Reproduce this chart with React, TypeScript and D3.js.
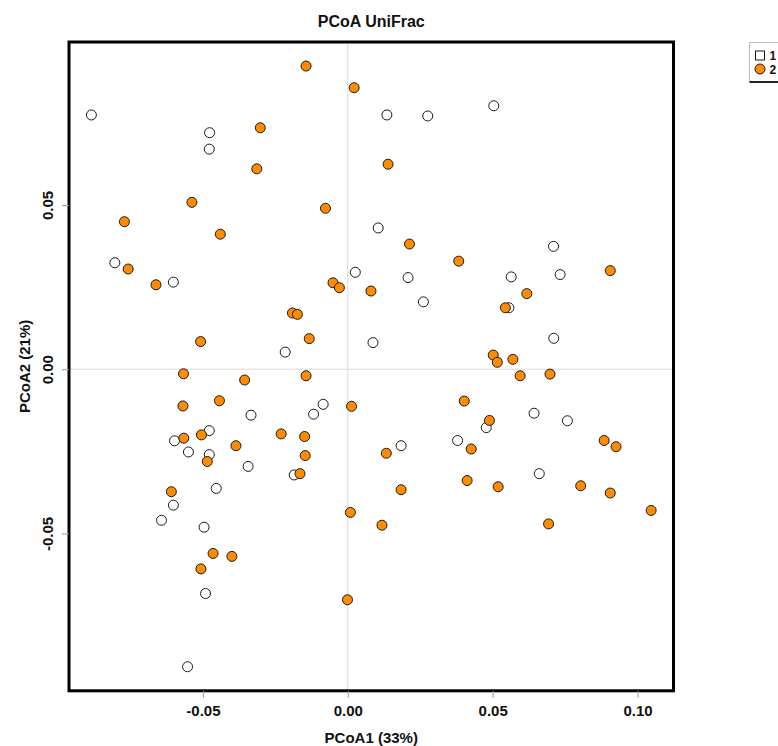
import React, { useEffect, useRef } from 'react';
import * as d3 from 'd3';

// group 1 (open circles): [PCoA1, PCoA2]
const group1 = [
  [-0.0885, 0.0774], [-0.0477, 0.072], [-0.0478, 0.067], [0.0135, 0.0774], [0.0276, 0.0771],
  [0.0504, 0.0802], [0.0105, 0.043], [0.0026, 0.0295], [0.0208, 0.0279], [0.0261, 0.0205],
  [0.071, 0.0374], [0.0733, 0.0288], [0.0564, 0.0281], [0.0556, 0.0187], [-0.0804, 0.0324],
  [-0.0602, 0.0265], [-0.0216, 0.0052], [0.0087, 0.0081], [0.0711, 0.0094], [-0.0334, -0.014],
  [-0.0118, -0.0137], [-0.0085, -0.0107], [-0.0478, -0.0187], [-0.0598, -0.0218], [-0.055, -0.0252],
  [-0.0478, -0.026], [-0.0344, -0.0296], [-0.0185, -0.0322], [-0.0454, -0.0363], [-0.0602, -0.0414],
  [-0.0643, -0.046], [-0.0496, -0.0481], [-0.0491, -0.0683], [-0.0553, -0.0906], [0.0643, -0.0134],
  [0.0758, -0.0157], [0.0478, -0.0178], [0.0379, -0.0217], [0.0184, -0.0233], [0.0661, -0.0318],
];

// group 2 (orange circles)
const group2 = [
  [-0.0144, 0.0923], [0.0022, 0.0857], [-0.0302, 0.0735], [-0.0314, 0.061], [-0.0538, 0.0508],
  [-0.0077, 0.049], [-0.0771, 0.0449], [-0.044, 0.0411], [-0.0758, 0.0305], [-0.0662, 0.0257],
  [-0.0051, 0.0263], [-0.0029, 0.0248], [-0.0191, 0.0171], [-0.0174, 0.0167], [-0.0133, 0.0093],
  [-0.0508, 0.0084], [0.0139, 0.0624], [0.0213, 0.0381], [0.0383, 0.0329], [0.0906, 0.03],
  [0.008, 0.0238], [0.0618, 0.023], [0.0544, 0.0187], [0.0502, 0.0043], [0.0516, 0.0021],
  [0.057, 0.003], [0.0595, -0.002], [0.0698, -0.0015], [-0.0567, -0.0014], [-0.0356, -0.0033],
  [-0.0144, -0.002], [-0.0569, -0.0112], [-0.0443, -0.0096], [0.0013, -0.0113], [-0.0505, -0.02],
  [-0.0566, -0.021], [-0.023, -0.0197], [-0.0149, -0.0205], [-0.0386, -0.0233], [-0.0485, -0.0281],
  [-0.0147, -0.0263], [-0.0165, -0.0318], [-0.0609, -0.0373], [0.0009, -0.0436], [-0.0465, -0.0561],
  [-0.04, -0.057], [-0.0507, -0.0608], [-0.0001, -0.0702], [0.0402, -0.0097], [0.0489, -0.0156],
  [0.0426, -0.0243], [0.0133, -0.0256], [0.0885, -0.0217], [0.0926, -0.0236], [0.0184, -0.0367],
  [0.0412, -0.0339], [0.0519, -0.0358], [0.0804, -0.0355], [0.0906, -0.0377], [0.1047, -0.043],
  [0.0118, -0.0475], [0.0693, -0.0471],
];

const groupLabels = ['1', '2'];
const groupFills = ['#ffffff', '#ff8c00'];
const xTickValues = [-0.05, 0, 0.05, 0.1];
const yTickValues = [-0.05, 0, 0.05];

const font = '"Liberation Sans", Arial, Helvetica, sans-serif';

// plain hyphen for negatives, like R
const locale = d3.formatLocale({ decimal: '.', thousands: ',', grouping: [3], currency: ['', ''], minus: '-' });
const fmt = locale.format('.2f');

// R style: extend data range by 4% on each side
function padded(vals: number[]): [number, number] {
  const [lo, hi] = d3.extent(vals) as [number, number];
  const p = (hi - lo) * 0.04;
  return [lo - p, hi + p];
}

export default function App() {
  const xAxisRef = useRef<SVGGElement>(null);
  const yAxisRef = useRef<SVGGElement>(null);

  const all = [...group1, ...group2];
  const left = 69, right = 673.5, top = 42, bottom = 690.8;

  const x = d3.scaleLinear().domain(padded(all.map(d => d[0]))).range([left, right]);
  const y = d3.scaleLinear().domain(padded(all.map(d => d[1]))).range([bottom, top]);
  const cx = (left + right) / 2;
  const cy = (top + bottom) / 2;

  useEffect(() => {
    const xg = d3.select(xAxisRef.current);
    xg.call(d3.axisBottom(x).tickValues(xTickValues).tickFormat(d => fmt(d as number)).tickSize(7).tickPadding(7.5));
    xg.select('.domain').remove();
    xg.selectAll('line').attr('stroke', '#999');
    xg.selectAll('text')
      .attr('fill', '#111')
      .style('font-family', font)
      .style('font-size', '15px')
      .style('font-weight', 'bold');

    const yg = d3.select(yAxisRef.current);
    yg.call(d3.axisLeft(y).tickValues(yTickValues).tickFormat(d => fmt(d as number)).tickSize(7));
    yg.select('.domain').remove();
    yg.selectAll('line').attr('stroke', '#999');
    yg.selectAll('text')
      .attr('x', 0)
      .attr('y', -16.3)
      .attr('dy', 0)
      .attr('transform', 'rotate(-90)')
      .attr('text-anchor', 'middle')
      .attr('fill', '#111')
      .style('font-family', font)
      .style('font-size', '15px')
      .style('font-weight', 'bold');
  }, []);

  return (
    <svg width={778} height={746} style={{ position: 'absolute', left: 0, top: 0, background: '#fff' }}>
      <rect width={778} height={746} fill="#fff" />
      <text x={cx} y={26.7} textAnchor="middle" fontFamily={font} fontWeight="bold" fontSize={16} fill="#111">
        PCoA UniFrac
      </text>

      {/* zero reference lines */}
      <line x1={x(0)} x2={x(0)} y1={top} y2={bottom} stroke="#d9d9d9" />
      <line x1={left} x2={right} y1={y(0)} y2={y(0)} stroke="#d9d9d9" />

      {group1.map((d, i) => (
        <circle key={'a' + i} cx={x(d[0])} cy={y(d[1])} r={5} fill={groupFills[0]} stroke="#1a1a1a" strokeWidth={1} />
      ))}
      {group2.map((d, i) => (
        <circle key={'b' + i} cx={x(d[0])} cy={y(d[1])} r={5} fill={groupFills[1]} stroke="#1a1a1a" strokeWidth={1} />
      ))}

      <rect x={left} y={top} width={right - left} height={bottom - top} fill="none" stroke="#000" strokeWidth={3} />

      <g ref={xAxisRef} transform={`translate(0,${bottom})`} />
      <g ref={yAxisRef} transform={`translate(${left},0)`} />

      <text x={cx} y={743} textAnchor="middle" fontFamily={font} fontWeight="bold" fontSize={15} fill="#111">
        PCoA1 (33%)
      </text>
      <text transform={`translate(30,${cy}) rotate(-90)`} textAnchor="middle" fontFamily={font} fontWeight="bold" fontSize={15} fill="#111">
        PCoA2 (21%)
      </text>

      {/* legend */}
      <rect x={749.5} y={42.5} width={40} height={39} fill="#fff" stroke="#bbb" />
      <line x1={749.5} x2={778} y1={82} y2={82} stroke="#222" strokeWidth={2} />
      <rect x={755.5} y={51} width={9} height={9} fill={groupFills[0]} stroke="#1a1a1a" />
      <circle cx={760} cy={69} r={5} fill={groupFills[1]} stroke="#1a1a1a" />
      {groupLabels.map((g, i) => (
        <text key={g} x={769.5} y={59.5 + i * 14} fontFamily={font} fontWeight="bold" fontSize={12} fill="#111">
          {g}
        </text>
      ))}
    </svg>
  );
}
